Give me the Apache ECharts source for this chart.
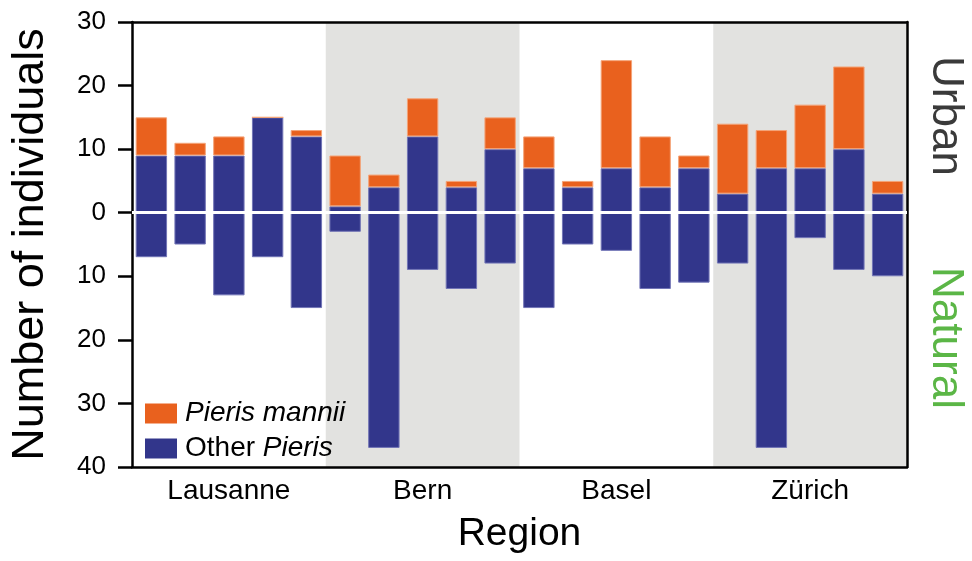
<!DOCTYPE html>
<html>
<head>
<meta charset="utf-8">
<script src="https://cdn.jsdelivr.net/npm/echarts@6/dist/echarts.min.js"></script>
<style>html,body{margin:0;padding:0;background:#fff;}#c{width:972px;height:561px;}</style>
</head>
<body>
<div id="c"></div>
<script>
// Data
var sites = ['L1','L2','L3','L4','L5','B1','B2','B3','B4','B5','S1','S2','S3','S4','S5','Z1','Z2','Z3','Z4','Z5'];
var regions = ['Lausanne','Bern','Basel','Zürich'];
var otherUrban   = [9, 9, 9, 15, 12,   1, 4, 12, 4, 10,   7, 4, 7, 4, 7,   3, 7, 7, 10, 3];
var manniiUrban  = [6, 2, 3, 0, 1,     8, 2, 6, 1, 5,     5, 1, 17, 8, 2,  11, 6, 10, 13, 2];
var otherNatural = [-7, -5, -13, -7, -15,  -3, -37, -9, -12, -8,  -15, -5, -6, -12, -11,  -8, -37, -4, -9, -10];
var bandTop    = ['-', 30, '-', 30];
var bandBottom = ['-', -40, '-', -40];
var yTicks = {min: -40, max: 30, interval: 10};

var FONT = 'Liberation Sans, Arial, Helvetica, sans-serif';
var BLUE = '#32368b', ORANGE = '#e9611e', GRAY = '#e2e2e0';

var chart = echarts.init(document.getElementById('c'), null, {renderer: 'canvas'});
chart.setOption({
  animation: false,
  backgroundColor: '#ffffff',
  textStyle: {fontFamily: FONT},
  grid: {left: 131, right: 65, top: 22, bottom: 94, containLabel: false},
  legend: {
    orient: 'vertical', left: 140, top: 394,
    itemWidth: 32, itemHeight: 20, itemGap: 6, icon: 'rect',
    selectedMode: false,
    itemStyle: {borderWidth: 0},
    data: ['Pieris mannii', 'Other Pieris'],
    textStyle: {fontSize: 28, lineHeight: 29, color: '#000', fontFamily: FONT, padding: [0, 0, 0, 3],
      rich: {
        i: {fontStyle: 'italic', fontSize: 28, fontFamily: FONT, color: '#000'},
        n: {fontSize: 28, fontFamily: FONT, color: '#000'}
      }},
    formatter: function (name) {
      if (name === 'Pieris mannii') return '{i|Pieris mannii}';
      return '{n|Other }{i|Pieris}';
    }
  },
  xAxis: [
    {type: 'category', data: sites, position: 'bottom', boundaryGap: true,
     axisLine: {show: true, onZero: false, lineStyle: {color: '#000', width: 2.5}},
     axisTick: {show: false}, axisLabel: {show: false}, splitLine: {show: false}},
    {type: 'category', data: regions, position: 'bottom', boundaryGap: true,
     axisLine: {show: false, onZero: false}, axisTick: {show: false},
     axisLabel: {show: true, fontSize: 28, color: '#000', margin: 10, fontFamily: FONT},
     name: 'Region', nameLocation: 'middle', nameGap: 48,
     nameTextStyle: {fontSize: 39, color: '#000', fontFamily: FONT}},
    {type: 'category', data: regions, position: 'top', boundaryGap: true,
     axisLine: {show: true, onZero: false, lineStyle: {color: '#000', width: 2.5}},
     axisTick: {show: false}, axisLabel: {show: false}}
  ],
  yAxis: [
    {type: 'value', min: yTicks.min, max: yTicks.max, interval: yTicks.interval,
     axisLine: {show: true, onZero: false, lineStyle: {color: '#000', width: 2.5}},
     axisTick: {show: true, inside: false, length: 14, lineStyle: {color: '#000', width: 2.5}},
     axisLabel: {fontSize: 26, color: '#000', margin: 26, fontFamily: FONT,
       formatter: function (v) { return String(Math.abs(v)); }},
     splitLine: {show: false},
     name: 'Number of individuals', nameLocation: 'middle', nameGap: 79, nameRotate: 90,
     nameTextStyle: {fontSize: 45, color: '#000', fontFamily: FONT}},
    {type: 'value', position: 'right', min: yTicks.min, max: yTicks.max, interval: yTicks.interval,
     axisLine: {show: true, onZero: false, lineStyle: {color: '#000', width: 2.5}},
     axisTick: {show: false}, axisLabel: {show: false}, splitLine: {show: false}}
  ],
  series: [
    {name: 'bandTop', type: 'bar', xAxisIndex: 1, yAxisIndex: 0, stack: 'band', barWidth: '100%',
     data: bandTop, itemStyle: {color: GRAY}, silent: true, z: -1},
    {name: 'bandBottom', type: 'bar', xAxisIndex: 1, yAxisIndex: 0, stack: 'band', barWidth: '100%',
     data: bandBottom, itemStyle: {color: GRAY}, silent: true, z: -1},
    {name: 'Other Pieris', type: 'bar', xAxisIndex: 0, yAxisIndex: 0, stack: 'u', barWidth: '81%',
     data: otherUrban, itemStyle: {color: BLUE, borderColor: '#7275b6', borderWidth: 1}, z: 2},
    {name: 'Pieris mannii', type: 'bar', xAxisIndex: 0, yAxisIndex: 0, stack: 'u', barWidth: '81%',
     data: manniiUrban, itemStyle: {color: ORANGE, borderColor: '#f4a478', borderWidth: 1}, z: 2},
    {name: 'Other Pieris', type: 'bar', xAxisIndex: 0, yAxisIndex: 0, stack: 'u', barWidth: '81%',
     data: otherNatural, itemStyle: {color: BLUE, borderColor: '#7275b6', borderWidth: 1}, z: 2},
    {name: 'zero', type: 'line', xAxisIndex: 0, yAxisIndex: 0, data: [], z: 5, silent: true,
     markLine: {silent: true, symbol: 'none', label: {show: false},
       lineStyle: {color: '#ffffff', width: 3, type: 'solid'},
       data: [{yAxis: 0}]}}
  ],
  graphic: [
    {type: 'text', x: 945, y: 116, rotation: -Math.PI / 2, z: 10,
     style: {text: 'Urban', fill: '#3a3a3a', font: '44px ' + FONT, textAlign: 'center', textVerticalAlign: 'middle', verticalAlign: 'middle'}},
    {type: 'text', x: 945, y: 338, rotation: -Math.PI / 2, z: 10,
     style: {text: 'Natural', fill: '#5bb646', font: '44px ' + FONT, textAlign: 'center', textVerticalAlign: 'middle', verticalAlign: 'middle'}}
  ]
});
</script>
</body>
</html>
